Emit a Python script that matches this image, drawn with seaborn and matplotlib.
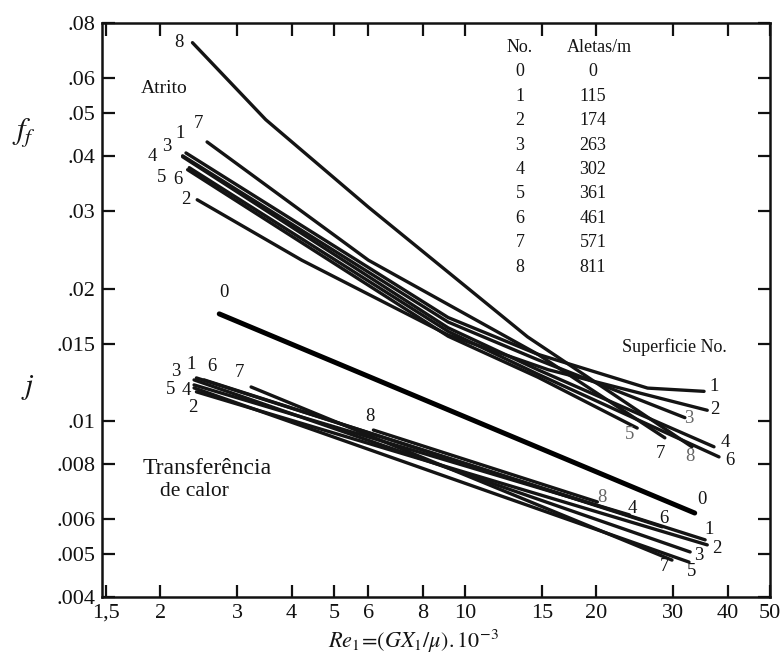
import matplotlib
matplotlib.use("Agg")
import matplotlib.pyplot as plt
from matplotlib.ticker import FixedLocator, FixedFormatter, NullLocator
import numpy as np
import pandas as pd
import seaborn as sns

# ---------------- data ----------------
# friction factor curves f_f vs Re*10^-3
F1_RE = [2.29, 9.14, 14.67, 26.2, 35.3]
F1_F = [0.0406, 0.0172, 0.0142, 0.0119, 0.0117]
F2_RE = [2.43, 4.22, 9.14, 15.5, 35.9]
F2_F = [0.0318, 0.0232, 0.0157, 0.0131, 0.0106]
F3_RE = [2.25, 9.14, 14.67, 31.9]
F3_F = [0.0400, 0.0168, 0.0138, 0.0102]
F4_RE = [2.25, 9.14, 14.67, 37.2]
F4_F = [0.0398, 0.0163, 0.0131, 0.00876]
F5_RE = [2.31, 9.14, 14.67, 24.8]
F5_F = [0.0372, 0.0156, 0.0126, 0.00966]
F6_RE = [2.33, 9.14, 14.67, 38.2]
F6_F = [0.0376, 0.0160, 0.0128, 0.00831]
F7_RE = [2.56, 6.0, 14.67, 28.7]
F7_F = [0.0430, 0.0232, 0.0142, 0.00918]
F8_RE = [2.37, 3.49, 6.0, 13.9, 33.1]
F8_F = [0.0722, 0.0483, 0.0306, 0.01555, 0.00876]

# surface 0 (no fins)
C0_RE = [2.73, 33.6]
C0_V = [0.01753, 0.00620]

# heat-transfer curves j vs Re*10^-3
J1_RE = [2.42, 35.5]
J1_J = [0.01255, 0.00539]
J2_RE = [2.42, 35.9]
J2_J = [0.01167, 0.00525]
J3_RE = [2.39, 32.8]
J3_J = [0.01242, 0.00506]
J4_RE = [2.39, 23.8]
J4_J = [0.01210, 0.00614]
J5_RE = [2.39, 32.6]
J5_J = [0.01191, 0.00480]
J6_RE = [2.52, 28.3]
J6_J = [0.01242, 0.00577]
J7_RE = [3.23, 29.8]
J7_J = [0.01197, 0.00485]
J8_RE = [6.16, 20.1]
J8_J = [0.00956, 0.00657]

# table of surfaces
SURFACE_NO = ["0", "1", "2", "3", "4", "5", "6", "7", "8"]
FINS_PER_M = ["0", "115", "174", "263", "302", "361", "461", "571", "811"]

X_TICKS = [1.5, 2, 3, 4, 5, 6, 8, 10, 15, 20, 30, 40, 50]
X_TICK_LABELS = ["1,5", "2", "3", "4", "5", "6", "8", "10", "15", "20", "30", "40", "50"]
Y_TICKS = [0.004, 0.005, 0.006, 0.008, 0.01, 0.015, 0.02, 0.03, 0.04, 0.05, 0.06, 0.08]
Y_TICK_LABELS = [".004", ".005", ".006", ".008", ".01", ".015", ".02", ".03", ".04",
                 ".05", ".06", ".08"]

# ---------------- build long table ----------------
curves = [
    ("f1", F1_RE, F1_F), ("f2", F2_RE, F2_F), ("f3", F3_RE, F3_F), ("f4", F4_RE, F4_F),
    ("f5", F5_RE, F5_F), ("f6", F6_RE, F6_F), ("f7", F7_RE, F7_F), ("f8", F8_RE, F8_F),
    ("j1", J1_RE, J1_J), ("j2", J2_RE, J2_J), ("j3", J3_RE, J3_J), ("j4", J4_RE, J4_J),
    ("j5", J5_RE, J5_J), ("j6", J6_RE, J6_J), ("j7", J7_RE, J7_J), ("j8", J8_RE, J8_J),
]
rows = []
for name, xs, ys in curves:
    for i, (xv, yv) in enumerate(zip(xs, ys)):
        rows.append({"curve": name, "order": i, "Re": xv, "value": yv})
df = pd.DataFrame(rows)
df0 = pd.DataFrame({"curve": "c0", "Re": C0_RE, "value": C0_V})

# ---------------- style ----------------
sns.set_style("ticks")
plt.rcParams["font.family"] = ["Liberation Serif", "DejaVu Serif"]
plt.rcParams["mathtext.fontset"] = "stix"

fig = plt.figure(figsize=(7.84, 6.63), dpi=100)
ax = fig.add_axes([102 / 784, 66 / 663, 668 / 784, 574 / 663])
ax.set_xscale("log")
ax.set_yscale("log")

LC = "#141414"
sns.lineplot(data=df, x="Re", y="value", units="curve", estimator=None, sort=False,
             color=LC, lw=2.4, ax=ax, legend=False)
sns.lineplot(data=df0, x="Re", y="value", units="curve", estimator=None, sort=False,
             color="black", lw=3.6, ax=ax, legend=False)

ax.set_xlim(1.47, 50)
ax.set_ylim(0.004, 0.08)

ax.xaxis.set_major_locator(FixedLocator(X_TICKS))
ax.xaxis.set_major_formatter(FixedFormatter(X_TICK_LABELS))
ax.xaxis.set_minor_locator(NullLocator())
ax.yaxis.set_major_locator(FixedLocator(Y_TICKS))
ax.yaxis.set_major_formatter(FixedFormatter(Y_TICK_LABELS))
ax.yaxis.set_minor_locator(NullLocator())
ax.tick_params(which="major", direction="in", length=9, width=1.6, top=True, right=True,
               labelsize=16, colors="#111111", pad=5)
ax.set_xlabel("")
ax.set_ylabel("")
for sp in ax.spines.values():
    sp.set_linewidth(1.8)
    sp.set_color("#111111")

GRAY = "#666666"
FS = 13.5
labels = [
    # friction, left
    ("8", 2.21, 0.0722, LC), ("7", 2.44, 0.0473, LC), ("1", 2.22, 0.0449, LC),
    ("3", 2.07, 0.0419, LC), ("4", 1.92, 0.0398, LC), ("5", 2.01, 0.0357, LC),
    ("6", 2.20, 0.0353, LC), ("2", 2.29, 0.0318, LC), ("0", 2.80, 0.01957, LC),
    # friction, right
    ("1", 37.2, 0.01197, LC), ("2", 37.4, 0.01062, LC), ("3", 32.6, 0.01018, GRAY),
    ("4", 39.4, 0.00898, LC), ("6", 40.5, 0.00814, LC), ("5", 23.8, 0.00932, GRAY),
    ("7", 28.0, 0.00848, LC), ("8", 32.8, 0.00831, GRAY),
    # j, left
    ("3", 2.175, 0.01295, LC), ("1", 2.354, 0.01343, LC), ("6", 2.628, 0.01329, LC),
    ("7", 3.03, 0.01288, LC), ("5", 2.108, 0.01179, LC), ("4", 2.293, 0.01173, LC),
    ("2", 2.378, 0.01073, LC), ("8", 6.06, 0.01024, LC),
    # j, right
    ("0", 34.9, 0.00664, LC), ("8", 20.6, 0.00671, GRAY), ("4", 24.2, 0.00636, LC),
    ("6", 28.6, 0.00604, LC), ("1", 36.2, 0.00568, LC), ("2", 37.8, 0.00514, LC),
    ("3", 34.4, 0.00498, LC), ("7", 28.7, 0.00468, LC), ("5", 33.1, 0.00458, LC),
]
for s, xv, yv, c in labels:
    ax.text(xv, yv, s, ha="center", va="center", fontsize=FS, color=c)

ax.text(2.04, 0.0568, "Atrito", ha="center", va="center", fontsize=14, color=LC)
ax.text(30.1, 0.01476, "Superficie No.", ha="center", va="center", fontsize=13, color=LC)
ax.text(2.56, 0.00784, "Transferência", ha="center", va="center", fontsize=17, color=LC)
ax.text(2.40, 0.00692, "de calor", ha="center", va="center", fontsize=15.5, color=LC)

# table
col1_x = (520 - 102) / 668
col2_x = (593 - 102) / 668
head2_x = (599 - 102) / 668
ax.text(col1_x, (597 - 47) / 574, "No.", transform=ax.transAxes, ha="center",
        va="center", fontsize=13, color=LC)
ax.text(head2_x, (597 - 47) / 574, "Aletas/m", transform=ax.transAxes, ha="center",
        va="center", fontsize=13, color=LC)
for i, (n, a) in enumerate(zip(SURFACE_NO, FINS_PER_M)):
    yy = (597 - (72 + 24.4 * i)) / 574
    ax.text(col1_x, yy, n, transform=ax.transAxes, ha="center", va="center",
            fontsize=13, color=LC)
    ax.text(col2_x, yy, a, transform=ax.transAxes, ha="center", va="center",
            fontsize=13, color=LC)

# axis labels
fig.text(24 / 784, 1 - 133 / 663, r"$f_f$", ha="center", va="center", fontsize=22,
         color=LC)
fig.text(28 / 784, 1 - 388 / 663, r"$j$", ha="center", va="center", fontsize=21,
         color=LC)
fig.text(413 / 784, 1 - 641 / 663, r"$Re_1\!=\!(GX_1/\mu).10^{-3}$", ha="center",
         va="center", fontsize=16, color=LC)

fig.savefig("out.png", dpi=100, facecolor="white")
